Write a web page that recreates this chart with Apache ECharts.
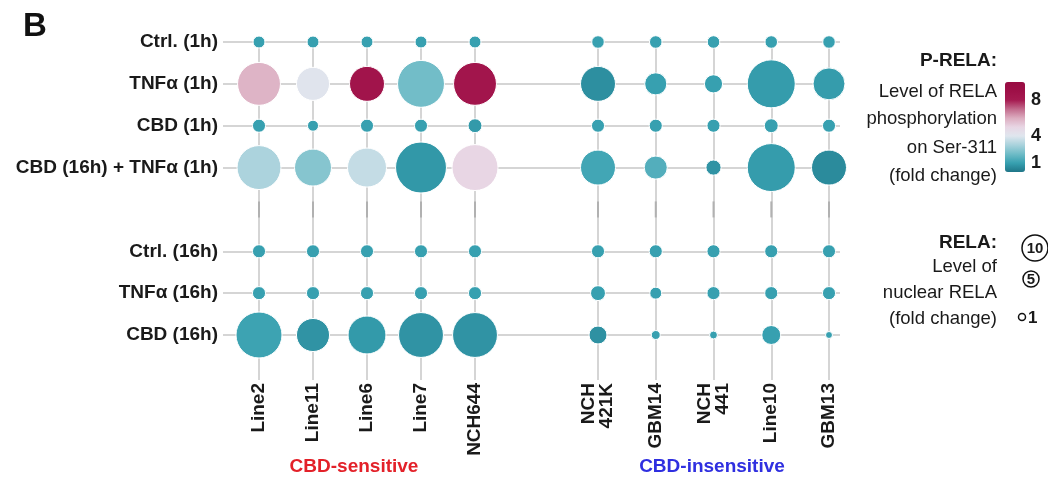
<!DOCTYPE html>
<html>
<head>
<meta charset="utf-8">
<script src="https://cdn.jsdelivr.net/npm/echarts@6/dist/echarts.min.js"></script>
<style>
  html, body { margin: 0; padding: 0; background: #fff; }
  #chart { width: 1048px; height: 484px; }
</style>
</head>
<body>
<div id="chart"></div>
<script>
// rows (top to bottom), '' marks the gap between 1h and 16h blocks
const rowCategories = ['Ctrl. (1h)', 'TNFα (1h)', 'CBD (1h)', 'CBD (16h) + TNFα (1h)', '', 'Ctrl. (16h)', 'TNFα (16h)', 'CBD (16h)']
const sensitiveLines = ['Line2', 'Line11', 'Line6', 'Line7', 'NCH644']
const insensitiveLines = ['NCH\n421K', 'GBM14', 'NCH\n441', 'Line10', 'GBM13']

// nuclear RELA, fold change (bubble size) - one row per non-gap row
const relaSensitive = [
  [1, 1, 1, 1, 1],
  [12.8, 7.6, 8.5, 15.3, 12.8],
  [1.2, 0.85, 1.2, 1.2, 1.35],
  [13.4, 9.5, 10.6, 18, 14.7],
  [1.2, 1.2, 1.2, 1.2, 1.2],
  [1.2, 1.2, 1.2, 1.2, 1.2],
  [14.7, 7.6, 10, 14, 14]
]
const relaInsensitive = [
  [1.1, 1.1, 1.1, 1.1, 1.1],
  [8.5, 3.4, 2.3, 16, 7.1],
  [1.2, 1.2, 1.2, 1.35, 1.2],
  [8.5, 3.7, 1.6, 16, 8.5],
  [1.2, 1.2, 1.2, 1.2, 1.2],
  [1.55, 1, 1.2, 1.2, 1.2],
  [2.25, 0.56, 0.44, 2.5, 0.34]
]

// RELA phosphorylation on Ser-311, fold change (bubble colour)
const pRelaSensitive = [
  [1, 1, 1, 1, 1],
  [5.8, 4.1, 8.6, 2.05, 8.5],
  [1, 1, 1, 1, 0.85],
  [3.05, 2.4, 3.5, 0.8, 5],
  [1, 1, 1, 1, 1],
  [1, 1, 1, 1, 1],
  [1.1, 0.7, 0.85, 0.7, 0.7]
]
const pRelaInsensitive = [
  [1, 1, 1, 1, 1],
  [0.6, 1, 1, 0.9, 0.9],
  [1, 1, 1, 1, 1],
  [1.2, 1.5, 0.7, 0.9, 0.5],
  [1, 1, 1, 1, 1],
  [1, 1, 1, 1, 1],
  [0.65, 1, 1, 1, 1]
]

const colorbarTicks = [8, 4, 1]

const pRelaColors = ['#1f7688', '#37a0b0', '#6fbcc7', '#a9d2dc', '#dfe6ee', '#e8d6e4',
  '#dcacbf', '#c26a8c', '#a51a50', '#9e1047', '#980c42']
const FONT = "'Liberation Sans', Arial, sans-serif"
const gridLine = { color: '#d5d5d5', width: 2 }

const dataRows = rowCategories.filter(r => r !== '')
const gapRow = rowCategories.indexOf('')

const buildPoints = (rela, prela) => {
  const pts = []
  dataRows.forEach((row, i) => {
    rela[i].forEach((v, c) => {
      pts.push([c, row, v, prela[i][c]])
    })
  })
  return pts
}

const colAxis = (gridIndex, names) => ({
  gridIndex,
  type: 'category',
  data: names,
  boundaryGap: false,
  axisLine: { show: false },
  axisTick: { show: true, length: 45, interval: 0, lineStyle: gridLine },
  splitLine: { show: true, interval: 0, lineStyle: gridLine },
  axisLabel: {
    rotate: 90, margin: 48, interval: 0, color: '#1a1a1a',
    fontFamily: FONT, fontWeight: 'bold', fontSize: 19, lineHeight: 18
  }
})

const hiddenRowAxis = (gridIndex) => ({
  gridIndex, type: 'category', data: rowCategories, inverse: true, boundaryGap: false, show: false
})

const bubbleSeries = (axisIndex, rela, prela) => ({
  type: 'scatter',
  xAxisIndex: axisIndex,
  yAxisIndex: axisIndex,
  data: buildPoints(rela, prela),
  symbolSize: v => 12 * Math.sqrt(v[2]),
  itemStyle: { borderColor: '#fff', borderWidth: 1, opacity: 1 },
  emphasis: { disabled: true },
  clip: false,
  z: 4
})

const gapSeries = (axisIndex, names) => ({
  type: 'scatter',
  xAxisIndex: axisIndex,
  yAxisIndex: axisIndex,
  data: names.map((_, c) => [c, gapRow]),
  symbol: 'rect',
  symbolSize: [2, 16],
  itemStyle: { color: '#a8a8a8' },
  silent: true,
  clip: false,
  z: 3
})

const text = (t, x, y, opts) => ({
  type: 'text',
  style: Object.assign({
    text: t, x, y, align: 'right', verticalAlign: 'middle',
    fontFamily: FONT, fontSize: 18.5, fill: '#1a1a1a'
  }, opts || {})
})

const cbTop = 82
const cbHeight = 90
const cbLeft = 1005

const graphics = [
  text('B', 23, 27, { align: 'left', fontSize: 33, fontWeight: 'bold', fill: '#111' }),
  text('P-RELA:', 997, 61, { fontWeight: 'bold', fontSize: 19 }),
  text('Level of RELA', 997, 92),
  text('phosphorylation', 997, 119),
  text('on Ser-311', 997, 148),
  text('(fold change)', 997, 176),
  text('RELA:', 997, 243, { fontWeight: 'bold', fontSize: 19 }),
  text('Level of', 997, 267),
  text('nuclear RELA', 997, 293),
  text('(fold change)', 997, 319),
  { type: 'circle', shape: { cx: 1035, cy: 248, r: 13 }, style: { fill: '#fff', stroke: '#111', lineWidth: 1.5 } },
  text('10', 1035, 249, { align: 'center', fontWeight: 'bold', fontSize: 15 }),
  { type: 'circle', shape: { cx: 1031, cy: 279, r: 8 }, style: { fill: '#fff', stroke: '#111', lineWidth: 1.5 } },
  text('5', 1031, 280, { align: 'center', fontWeight: 'bold', fontSize: 15 }),
  { type: 'circle', shape: { cx: 1022, cy: 317, r: 3.5 }, style: { fill: '#fff', stroke: '#111', lineWidth: 1.5 } },
  text('1', 1028, 318, { align: 'left', fontWeight: 'bold', fontSize: 17 }),
  text('CBD-sensitive', 354, 467, { align: 'center', fontWeight: 'bold', fontSize: 19, fill: '#e32129' }),
  text('CBD-insensitive', 712, 467, { align: 'center', fontWeight: 'bold', fontSize: 19, fill: '#2f2fe0' })
]
colorbarTicks.forEach(v => {
  graphics.push(text(String(v), cbLeft + 26, cbTop + cbHeight * (1 - v / 10), { align: 'left', fontWeight: 'bold', fontSize: 18 }))
})

const option = {
  animation: false,
  grid: [
    { left: 223, width: 617, top: 42, height: 293 },
    { left: 259, width: 216, top: 42, height: 293 },
    { left: 598, width: 231, top: 42, height: 293 }
  ],
  xAxis: [
    { gridIndex: 0, type: 'value', show: false, min: 0, max: 1 },
    colAxis(1, sensitiveLines),
    colAxis(2, insensitiveLines)
  ],
  yAxis: [
    {
      gridIndex: 0,
      type: 'category',
      data: rowCategories,
      inverse: true,
      boundaryGap: false,
      axisLine: { show: false },
      axisTick: { show: false },
      splitLine: { show: true, interval: (i, v) => v !== '', lineStyle: gridLine },
      axisLabel: { margin: 5, interval: 0, color: '#1a1a1a', fontFamily: FONT, fontWeight: 'bold', fontSize: 19 }
    },
    hiddenRowAxis(1),
    hiddenRowAxis(2)
  ],
  visualMap: {
    type: 'continuous',
    min: 0,
    max: 10,
    dimension: 3,
    seriesIndex: [0, 1],
    calculable: false,
    hoverLink: false,
    inRange: { color: pRelaColors },
    itemWidth: 20,
    itemHeight: cbHeight,
    left: cbLeft,
    top: cbTop,
    padding: 0,
    text: null
  },
  series: [
    bubbleSeries(1, relaSensitive, pRelaSensitive),
    bubbleSeries(2, relaInsensitive, pRelaInsensitive),
    gapSeries(1, sensitiveLines),
    gapSeries(2, insensitiveLines)
  ],
  graphic: graphics
}

const myChart = echarts.init(document.getElementById('chart'))
myChart.setOption(option)
</script>
</body>
</html>
